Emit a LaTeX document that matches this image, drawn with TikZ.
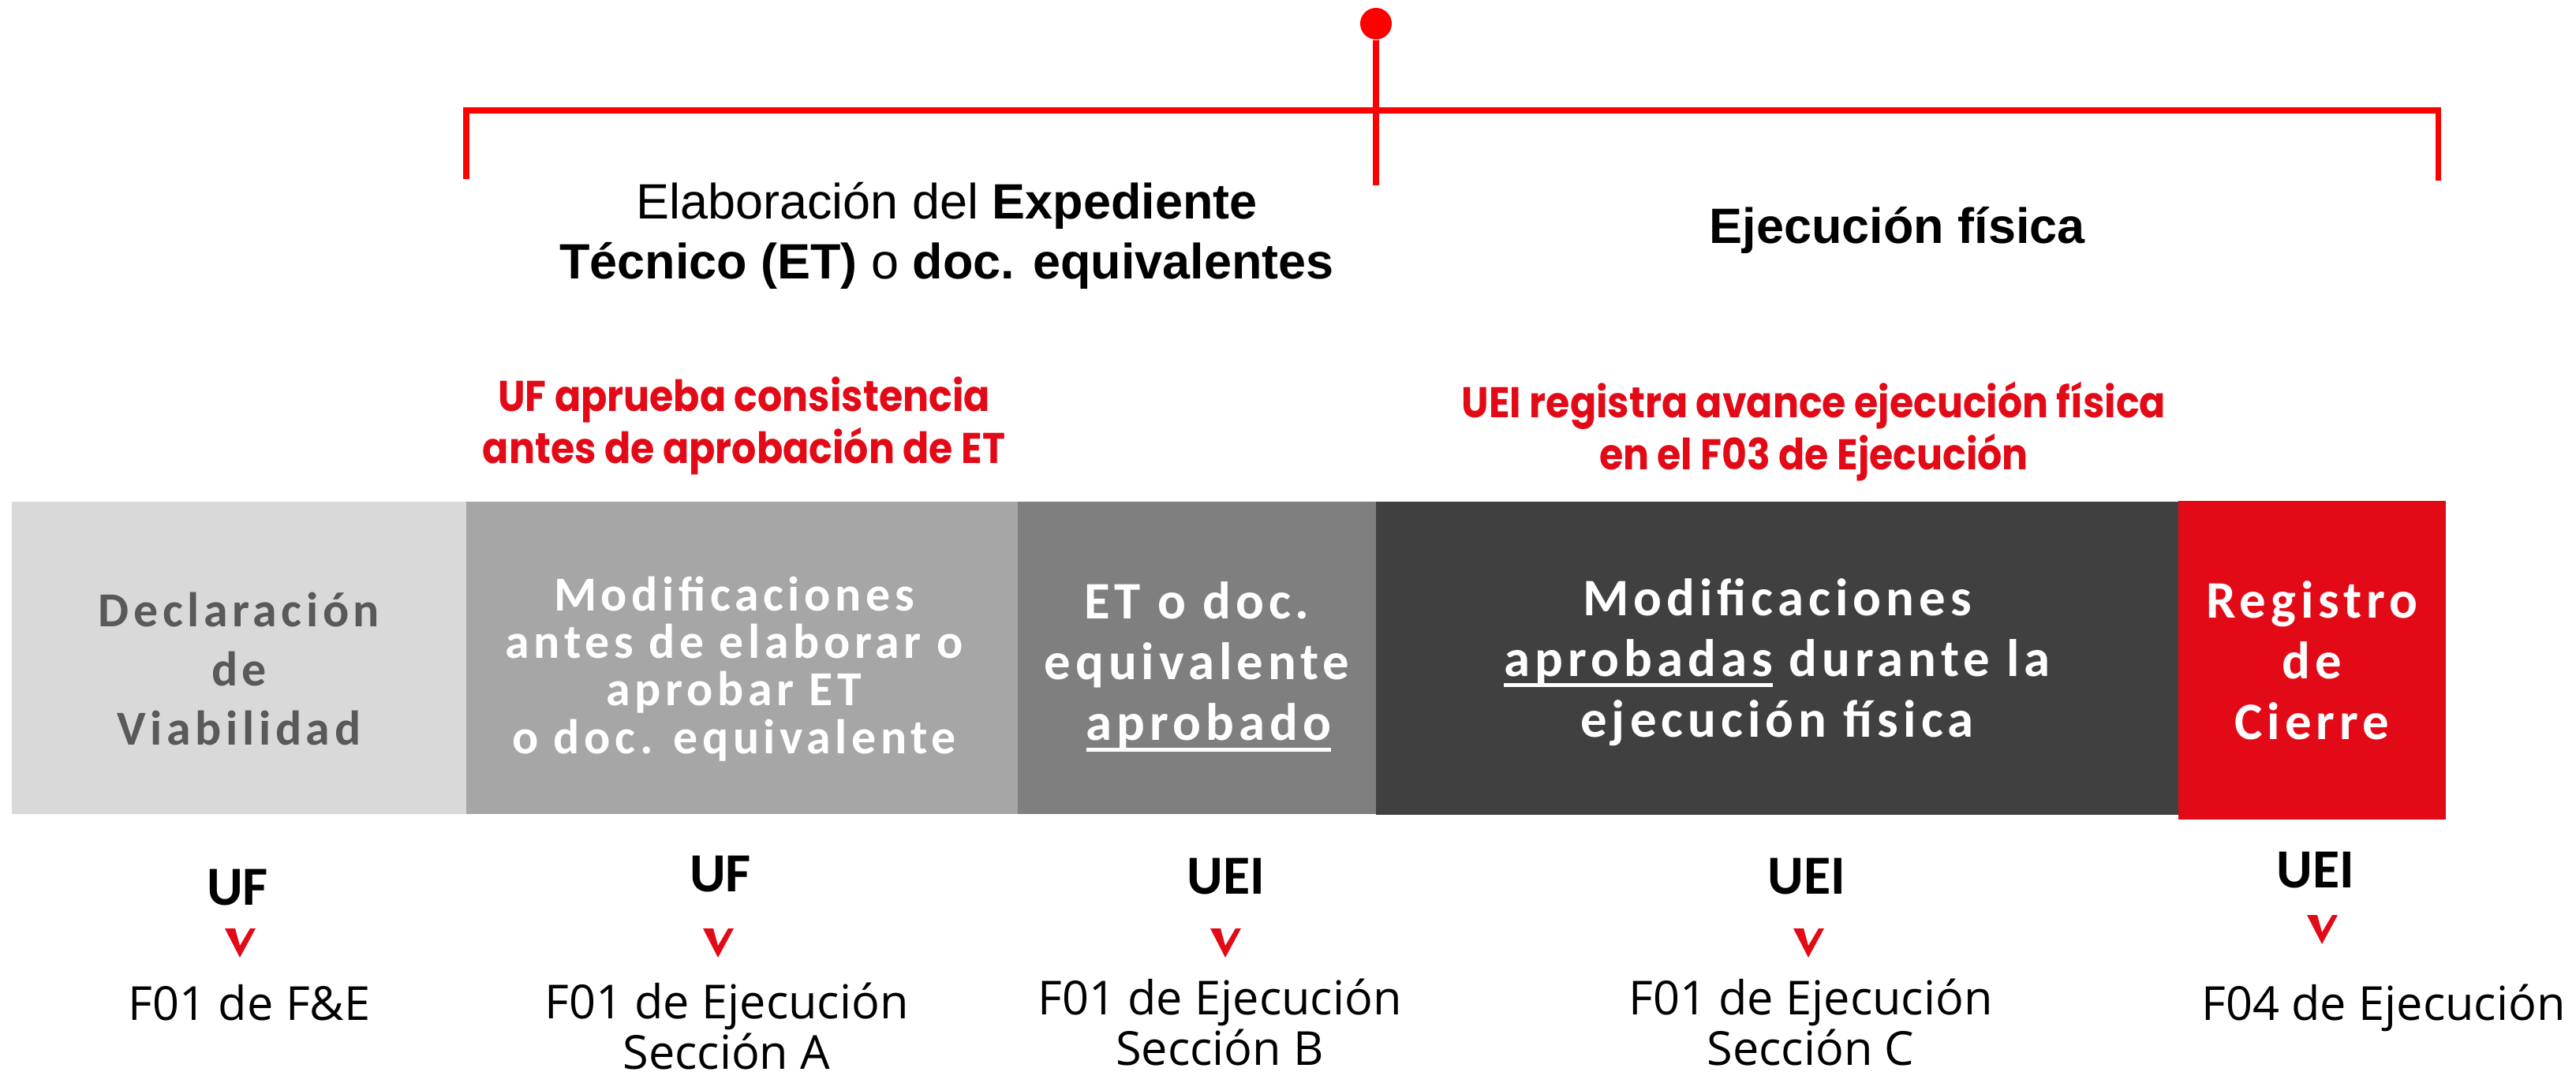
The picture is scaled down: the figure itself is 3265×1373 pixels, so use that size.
\documentclass[tikz,border=0pt]{standalone}
\usepackage{fontspec}
\usepackage{xcolor}
\usetikzlibrary{positioning}
\setmainfont{Liberation Sans}
\newfontfamily\fasefont{Carlito}[LetterSpace=9]
\newfontfamily\unidadfont{Carlito}
\newfontfamily\notafont{Poppins}[FakeStretch=0.9]
\newfontfamily\formfont{Open Sans}

\definecolor{rojo}{HTML}{E30A17}
\definecolor{rojolinea}{HTML}{FF0000}
\definecolor{gris1}{HTML}{D9D9D9}
\definecolor{gris2}{HTML}{A6A6A6}
\definecolor{gris3}{HTML}{7F7F7F}
\definecolor{gris4}{HTML}{404040}
\definecolor{textogris}{HTML}{595959}

\newcommand{\subrayado}[1]{\setbox0=\hbox{#1}\rlap{\raisebox{-4pt}{\rule{\wd0}{1.4pt}}}\box0\relax}

\begin{document}
\begin{tikzpicture}[x=0.01cm,y=0.01cm,yscale=-1,
  corchete/.style={draw=rojolinea,line width=2pt},
  fase/.style={inner sep=0pt,minimum height=3.96cm},
  textofase/.style={inner sep=0pt,align=center,text=white,font=\fasefont\bfseries\fontsize{19}{21.9}\selectfont},
  titulo/.style={align=center,inner sep=0pt,font=\fontsize{17.9}{21.6}\selectfont},
  nota/.style={align=center,inner sep=0pt,text=rojo,font=\notafont\bfseries\fontsize{15.5}{18.8}\selectfont},
  unidad/.style={anchor=base,inner sep=0pt,font=\unidadfont\bfseries\fontsize{19.9}{22}\selectfont},
  formato/.style={align=center,inner sep=0pt,font=\formfont\fontsize{16.9}{16.6}\selectfont}]
\useasboundingbox (0,0) rectangle (3265,1373);

%Bracket
\node [circle,fill=rojolinea,inner sep=0pt,minimum size=0.4cm] (hito) at (1744,30) {};
\draw [corchete]  (591,227) -- (591,140) -- (3090,140) -- (3090,229) ;
\draw [corchete]  (hito) -- (1744,235) ;

% Text Node
\node [titulo] (elab) at (1200,299) {Elaboración del \textbf{Expediente}\\\textbf{Técnico (ET)} o \textbf{doc. equivalentes}};
% Text Node
\node [titulo,anchor=base] (ejec) at (2405,309) {\textbf{Ejecución física}};

% Text Node
\node [nota] (notauf) at (943,540) {UF aprueba consistencia\\antes de aprobación de ET};
% Text Node
\node [nota] (notauei) at (2299,547) {UEI registra avance ejecución física\\en el F03 de Ejecución};

%Shape: Rectangle
\node [fase,fill=gris1,minimum width=5.76cm] (decl) at (303,834) {};
\node [fase,fill=gris2,minimum width=6.99cm] (modant) at (940.5,834) {};
\node [fase,fill=gris3,minimum width=4.54cm] (etaprob) at (1517,834) {};
\node [fase,fill=gris4,minimum width=10.17cm,minimum height=3.97cm] (moddur) at (2252.5,834.5) {};
\node [fase,fill=rojo,minimum width=3.39cm,minimum height=4.04cm] (cierre) at (2930.5,837) {};

% Text Node
\node [textofase,text=textogris,font=\fasefont\bfseries\fontsize{17.6}{21.3}\selectfont,yshift=-0.14cm] (decltxt) at (decl) {Declaración\\de\\Viabilidad};
\node [textofase,font=\fasefont\bfseries\fontsize{17.6}{17.1}\selectfont,yshift=-0.14cm,xshift=-0.1cm] (modanttxt) at (modant) {Modificaciones\\antes de elaborar o\\aprobar ET\\o doc. equivalente};
\node [textofase,yshift=-0.11cm] (etaprobtxt) at (etaprob) {ET o doc.\\equivalente\\\hspace*{0.3cm}\subrayado{aprobado}};
\node [textofase,yshift=-0.05cm] (moddurtxt) at (moddur) {Modificaciones\\\subrayado{aprobadas} durante la\\ejecución física};
\node [textofase] (cierretxt) at (cierre) {Registro\\de\\Cierre};

% Text Node
\node [unidad] (uf1) at (301,1147) {UF};
\node [unidad] (uf2) at (913,1130) {UF};
\node [unidad] (uei3) at (1554,1133) {UEI};
\node [unidad] (uei4) at (2290,1133) {UEI};
\node [unidad] (uei5) at (2935,1125) {UEI};

%Arrow heads
\fill [rojo]  (285,1177) -- (298,1177) -- (304,1199) -- (317,1177) -- (324,1177) -- (304,1214) -- cycle ;
\fill [rojo]  (891,1177) -- (904,1177) -- (910,1199) -- (923,1177) -- (930,1177) -- (910,1214) -- cycle ;
\fill [rojo]  (1534,1177) -- (1547,1177) -- (1553,1199) -- (1566,1177) -- (1573,1177) -- (1553,1214) -- cycle ;
\fill [rojo]  (2273,1177) -- (2286,1177) -- (2292,1199) -- (2305,1177) -- (2312,1177) -- (2292,1214) -- cycle ;
\fill [rojo]  (2924,1160) -- (2937,1160) -- (2943,1182) -- (2956,1160) -- (2963,1160) -- (2943,1197) -- cycle ;

% Text Node
\node [formato,anchor=base] (f1) at (316,1293) {F01 de F\&E};
\node [formato] (f2) at (921,1301) {F01 de Ejecución\\Sección A};
\node [formato] (f3) at (1546,1296) {F01 de Ejecución\\Sección B};
\node [formato] (f4) at (2295,1296) {F01 de Ejecución\\Sección C};
\node [formato,anchor=base] (f5) at (3021,1293) {F04 de Ejecución};
\end{tikzpicture}
\end{document}
